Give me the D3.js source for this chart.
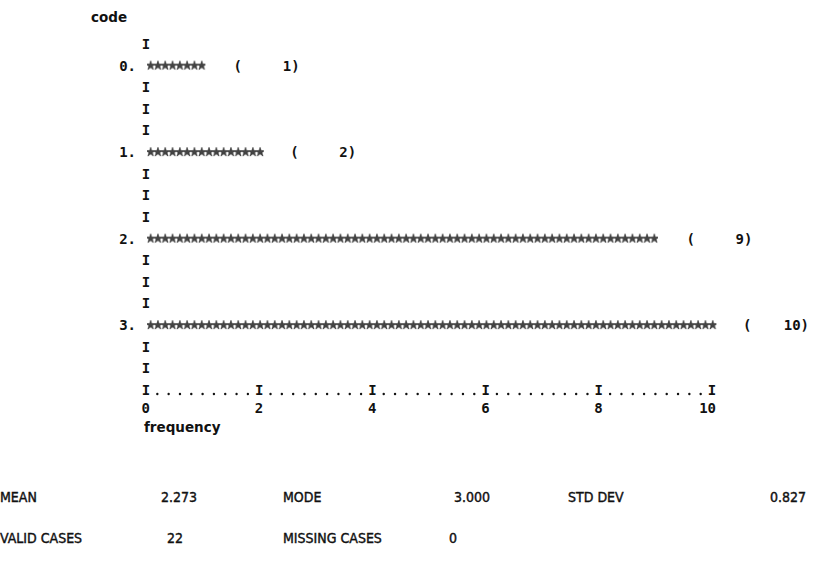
<!DOCTYPE html>
<html>
<meta charset="utf-8">
<head>
  <title>Frequency histogram (printout)</title>
</head>
<style>
body { margin: 0; background: white; }
text { fill: #111; }
.mono { font-family: "DejaVu Sans Mono", monospace; font-weight: bold; font-size: 14px; }
.lab { font-family: "DejaVu Sans", sans-serif; font-weight: bold; font-size: 13.5px; }
.stat { font-family: "DejaVu Sans Condensed", "DejaVu Sans", sans-serif; font-size: 14px; stroke: #111; stroke-width: 0.4px; }
</style>
<body>
  <svg width="823" height="562"></svg>

  <script src="https://cdnjs.cloudflare.com/ajax/libs/d3/7.8.5/d3.min.js"></script>
  <script>
// data
var codes = ["0.", "1.", "2.", "3."];
var counts = [1, 2, 9, 10];
var freqTicks = [0, 2, 4, 6, 8, 10];
var statLabels = ["MEAN", "MODE", "STD DEV"];
var statValues = ["2.273", "3.000", "0.827"];
var caseLabels = ["VALID CASES", "MISSING CASES"];
var caseValues = ["22", "0"];

var svg = d3.select('svg');

var x = d3.scaleLinear().domain([0, 10]).range([146, 712]);
// printer lines: 0 = first "I", 16 = axis line
var line = d3.scaleLinear().domain([0, 16]).range([44, 390]);
var y = d3.scalePoint().domain(codes).range([line(1), line(13)]);
var starW = 7.3;

// star fill pattern for the bars
var defs = svg.append('defs');
var pat = defs.append('pattern')
  .attr('id', 'stars')
  .attr('patternUnits', 'objectBoundingBox')
  .attr('patternContentUnits', 'userSpaceOnUse')
  .attr('width', 1).attr('height', 1);
// simpler: userSpace pattern aligned to bar start
pat = defs.append('pattern')
  .attr('id', 'stars2')
  .attr('patternUnits', 'userSpaceOnUse')
  .attr('width', starW).attr('height', 12)
  .attr('x', x(0) + 1).attr('y', -6);
pat.append('path')
  .attr('d', d3.symbol().type(d3.symbolStar).size(26)())
  .attr('transform', 'translate(' + starW / 2 + ',6)')
  .attr('fill', '#444')
  .attr('stroke', '#111')
  .attr('stroke-width', 0.5);

svg.append('text').attr('class', 'lab')
  .attr('x', 91).attr('y', 17).attr('dy', '0.35em')
  .text('code');

// the vertical "I" column
var barLines = codes.map(function(c, i) { return 1 + 4 * i; });
var iLines = d3.range(0, 16).filter(function(l) { return barLines.indexOf(l) < 0; });
svg.selectAll('text.vbar')
  .data(iLines)
  .enter().append('text')
  .attr('class', 'mono vbar')
  .attr('x', x(0)).attr('y', function(d) { return line(d); })
  .attr('dy', '0.35em').attr('text-anchor', 'middle')
  .text('I');

var rows = svg.selectAll('g.row')
  .data(codes)
  .enter().append('g')
  .attr('class', 'row')
  .attr('transform', function(d) { return 'translate(0,' + y(d) + ')'; });

rows.append('text').attr('class', 'mono')
  .attr('x', 136).attr('dy', '0.35em').attr('text-anchor', 'end')
  .text(function(d) { return d; });

// bar length snapped to whole stars, as the printer would
rows.append('rect')
  .attr('x', x(0) + 1)
  .attr('y', -6)
  .attr('width', function(d, i) { return Math.round((x(counts[i]) - x(0)) / starW) * starW; })
  .attr('height', 12)
  .attr('fill', 'url(#stars2)');

rows.append('text').attr('class', 'mono')
  .attr('x', function(d, i) { return x(counts[i]) + 31; })
  .attr('dy', '0.35em')
  .text('(');

rows.append('text').attr('class', 'mono')
  .attr('x', function(d, i) { return x(counts[i]) + 97; })
  .attr('dy', '0.35em').attr('text-anchor', 'end')
  .text(function(d, i) { return counts[i] + ')'; });

// dotted frequency axis
var axisY = line(16);
svg.selectAll('text.tick')
  .data(freqTicks)
  .enter().append('text')
  .attr('class', 'mono tick')
  .attr('x', function(d) { return x(d); }).attr('y', axisY)
  .attr('dy', '0.35em').attr('text-anchor', 'middle')
  .text('I');

var dots = [];
freqTicks.slice(1).forEach(function(t, i) {
  var a = x(freqTicks[i]), b = x(t);
  for (var j = 1; j < 10; j++) dots.push(a + (b - a) * j / 10);
});
svg.selectAll('circle.dot')
  .data(dots)
  .enter().append('circle')
  .attr('cx', function(d) { return d; }).attr('cy', axisY + 4)
  .attr('r', 1.2).attr('fill', '#111');

svg.selectAll('text.tl')
  .data(freqTicks)
  .enter().append('text')
  .attr('class', 'mono tl')
  .attr('x', function(d) { return x(d) + 4; }).attr('y', axisY + 18)
  .attr('dy', '0.35em').attr('text-anchor', 'end')
  .text(function(d) { return d; });

svg.append('text').attr('class', 'lab')
  .attr('x', x(0) - 2).attr('y', axisY + 37).attr('dy', '0.35em')
  .text('frequency');

// summary statistics
var statLx = [0, 283, 568], statVx = [197, 490, 806];
statLabels.forEach(function(s, i) {
  svg.append('text').attr('class', 'stat')
    .attr('x', statLx[i]).attr('y', 497).attr('dy', '0.35em').text(s);
  svg.append('text').attr('class', 'stat')
    .attr('x', statVx[i]).attr('y', 497).attr('dy', '0.35em')
    .attr('text-anchor', 'end').text(statValues[i]);
});
var caseLx = [0, 283], caseVx = [183, 457];
caseLabels.forEach(function(s, i) {
  svg.append('text').attr('class', 'stat')
    .attr('x', caseLx[i]).attr('y', 538).attr('dy', '0.35em').text(s);
  svg.append('text').attr('class', 'stat')
    .attr('x', caseVx[i]).attr('y', 538).attr('dy', '0.35em')
    .attr('text-anchor', 'end').text(caseValues[i]);
});
  </script>
</body>
</html>
